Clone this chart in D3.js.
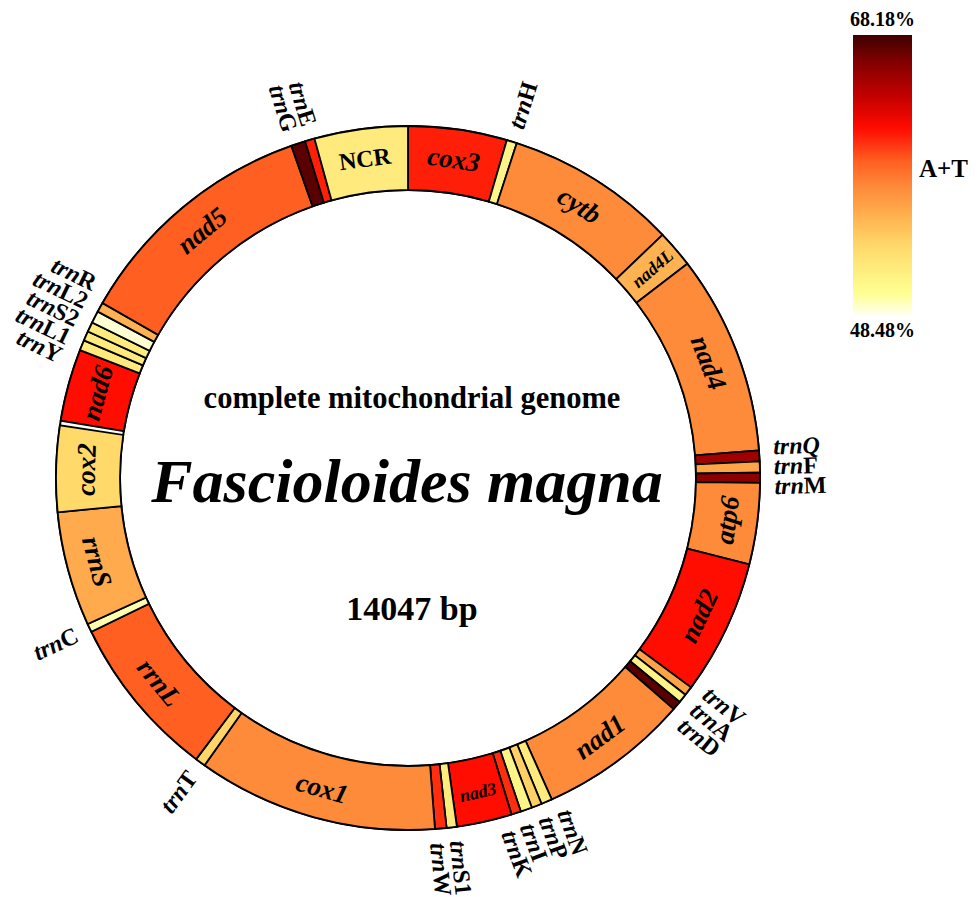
<!DOCTYPE html>
<html>
<head>
<meta charset="utf-8">
<script src="https://cdn.jsdelivr.net/npm/d3@7"></script>
<style>
  body { margin: 0; background: #fff; }
  svg text { font-family: "Liberation Serif", "Times New Roman", serif; font-weight: bold; }
</style>
</head>
<body>
<div id="chart"></div>
<script>
// genome map data (bp positions)
const genomeLength = 14047;
const geneNames = ["cox3", "trnH", "cytb", "nad4L", "nad4", "trnQ", "trnF", "trnM", "atp6", "nad2",
  "trnV", "trnA", "trnD", "nad1", "trnN", "trnP", "trnI", "trnK", "nad3", "trnS1", "trnW", "cox1",
  "trnT", "rrnL", "trnC", "rrnS", "cox2", "nad6", "trnY", "trnL1", "trnS2", "trnL2", "trnR", "nad5",
  "trnG", "trnE", "NCR"];
const geneStart = [1, 637, 703, 1808, 2050, 3337, 3407, 3478, 3544, 4067,
  4937, 4996, 5054, 5113, 6084, 6155, 6221, 6295, 6357, 6713, 6779, 6853,
  8402, 8468, 9526, 9580, 10318, 10902, 11367, 11434, 11496, 11559, 11637, 11699,
  13293, 13385, 13447];
const geneEnd = [636, 702, 1807, 2049, 3336, 3406, 3477, 3543, 4066, 4936,
  4995, 5053, 5112, 6083, 6154, 6220, 6294, 6356, 6712, 6778, 6852, 8401,
  8467, 9525, 9579, 10317, 10871, 11366, 11433, 11495, 11558, 11636, 11698, 13292,
  13384, 13446, 14047];
// A+T content (%) per gene, estimated from the colour key
const atContent = [61.1, 51.0, 57.5, 55.4, 57.5, 65.2, 56.2, 66.0, 57.5, 61.6,
  56.2, 51.0, 67.4, 57.5, 51.8, 53.8, 51.0, 60.7, 61.6, 51.8, 60.7, 57.5,
  53.6, 59.3, 49.6, 55.8, 53.4, 61.6, 51.8, 51.8, 51.8, 49.0, 55.4, 59.3,
  67.4, 61.1, 51.8];
const atMin = 48.48, atMax = 68.18;

// tRNA labels drawn outside the ring as stacked blocks
const trnaGroups = [["trnH"], ["trnQ", "trnF", "trnM"], ["trnV", "trnA", "trnD"],
  ["trnN", "trnP", "trnI", "trnK"], ["trnS1", "trnW"], ["trnT"], ["trnC"],
  ["trnY", "trnL1", "trnS2", "trnL2", "trnR"], ["trnG", "trnE"]];

const genes = geneNames.map((name, i) => ({
  name: name, start: geneStart[i], end: geneEnd[i], at: atContent[i]
}));

const width = 978, height = 897;
const cx = 408, cy = 478;
const rIn = 288, rOut = 352;

// colour key: white -> yellow -> orange -> red -> dark red
const keyStops = [0, 0.08, 0.25, 0.37, 0.46, 0.55, 0.67, 0.78, 0.89, 1];
const keyColors = ["#fffff4", "#ffff92", "#ffd96a", "#ffab4c", "#fd8a3a", "#ff6022",
  "#ff0a00", "#c40000", "#8b0000", "#400000"];
const color = d3.scaleLinear()
  .domain(keyStops.map(t => atMin + t * (atMax - atMin)))
  .range(keyColors)
  .interpolate(d3.interpolateRgb)
  .clamp(true);

const svg = d3.select("#chart").append("svg")
  .attr("width", width)
  .attr("height", height);

const angle = d3.scaleLinear().domain([0, genomeLength]).range([0, 2 * Math.PI]);
const deg = a => a * 180 / Math.PI;

const ring = svg.append("g").attr("transform", `translate(${cx},${cy})`);

ring.append("path")
  .attr("d", d3.arc().innerRadius(rIn).outerRadius(rOut).startAngle(0).endAngle(2 * Math.PI)())
  .attr("fill", "#fff")
  .attr("stroke", "#000")
  .attr("stroke-width", 2);

const arc = d3.arc().innerRadius(rIn).outerRadius(rOut);

ring.selectAll("path.gene")
  .data(genes)
  .enter().append("path")
  .attr("class", "gene")
  .attr("d", d => arc({ startAngle: angle(d.start - 1), endAngle: angle(d.end) }))
  .attr("fill", d => color(d.at))
  .attr("stroke", "#000")
  .attr("stroke-width", 1.8);

// gene labels inside the ring
const rLabel = (rIn + rOut) / 2 + 2;
const big = genes.filter(d => !d.name.startsWith("trn"));
ring.selectAll("text.gene")
  .data(big)
  .enter().append("text")
  .attr("class", "gene")
  .attr("transform", d => {
    const a = deg(angle((d.start - 1 + d.end) / 2));
    let rot = a;
    if (d.name === "nad4L") rot = a - 90;
    else if (a > 90 && a < 270) rot = a + 180;
    const x = rLabel * Math.sin(a * Math.PI / 180);
    const y = -rLabel * Math.cos(a * Math.PI / 180);
    return `translate(${x},${y}) rotate(${rot})`;
  })
  .attr("text-anchor", "middle")
  .attr("dominant-baseline", "central")
  .style("font-style", d => d.name === "NCR" ? "normal" : "italic")
  .style("font-size", d => d.name === "nad4L" ? "18px" : d.name === "nad3" ? "18px" : d.name === "NCR" ? "24px" : "27px")
  .text(d => d.name);

// tRNA labels
const byName = {};
genes.forEach(g => byName[g.name] = g);
const rTrna = 366, lineH = 20;
trnaGroups.forEach(group => {
  const first = byName[group[0]], last = byName[group[group.length - 1]];
  const a = deg(angle((first.start - 1 + first.end + last.start - 1 + last.end) / 4));
  const left = a > 180;
  const rot = left ? a - 270 : a - 90;
  const x = rTrna * Math.sin(a * Math.PI / 180);
  const y = -rTrna * Math.cos(a * Math.PI / 180);
  const g = ring.append("g").attr("transform", `translate(${x},${y}) rotate(${rot})`);
  const c = (group.length - 1) / 2;
  group.forEach((name, j) => {
    const t = g.append("text")
      .attr("x", 0)
      .attr("y", (left ? -(j - c) : (j - c)) * lineH)
      .attr("text-anchor", left ? "end" : "start")
      .attr("dominant-baseline", "central")
      .style("font-size", "24px");
    t.append("tspan").style("font-style", "italic").text("trn");
    t.append("tspan").style("font-style", name === "trnQ" ? "italic" : "normal").text(name.slice(3));
  });
});

// centre titles
svg.append("text")
  .attr("x", 412).attr("y", 408)
  .attr("text-anchor", "middle")
  .style("font-size", "30.5px")
  .text("complete mitochondrial genome");

svg.append("text")
  .attr("x", 407).attr("y", 502)
  .attr("text-anchor", "middle")
  .style("font-size", "62px")
  .style("font-style", "italic")
  .text("Fascioloides magna");

svg.append("text")
  .attr("x", 412).attr("y", 620)
  .attr("text-anchor", "middle")
  .style("font-size", "34px")
  .text("14047 bp");

// colour key
const keyX = 853, keyW = 59;
const keyY = d3.scaleLinear().domain([atMin, atMax]).range([316, 35]);
const grad = svg.append("defs").append("linearGradient")
  .attr("id", "atGrad")
  .attr("x1", 0).attr("y1", 1).attr("x2", 0).attr("y2", 0);
grad.selectAll("stop")
  .data(d3.range(0, 1.0001, 0.02))
  .enter().append("stop")
  .attr("offset", t => t)
  .attr("stop-color", t => color(atMin + t * (atMax - atMin)));

svg.append("rect")
  .attr("x", keyX)
  .attr("y", keyY(atMax))
  .attr("width", keyW)
  .attr("height", keyY(atMin) - keyY(atMax))
  .attr("fill", "url(#atGrad)");

svg.append("text")
  .attr("x", keyX + keyW / 2).attr("y", keyY(atMax) - 9)
  .attr("text-anchor", "middle")
  .style("font-size", "20px")
  .text(atMax.toFixed(2) + "%");

svg.append("text")
  .attr("x", keyX + keyW / 2).attr("y", keyY(atMin) + 21)
  .attr("text-anchor", "middle")
  .style("font-size", "20px")
  .text(atMin.toFixed(2) + "%");

svg.append("text")
  .attr("x", keyX + keyW + 7).attr("y", 177)
  .style("font-size", "25px")
  .text("A+T");
</script>
</body>
</html>
